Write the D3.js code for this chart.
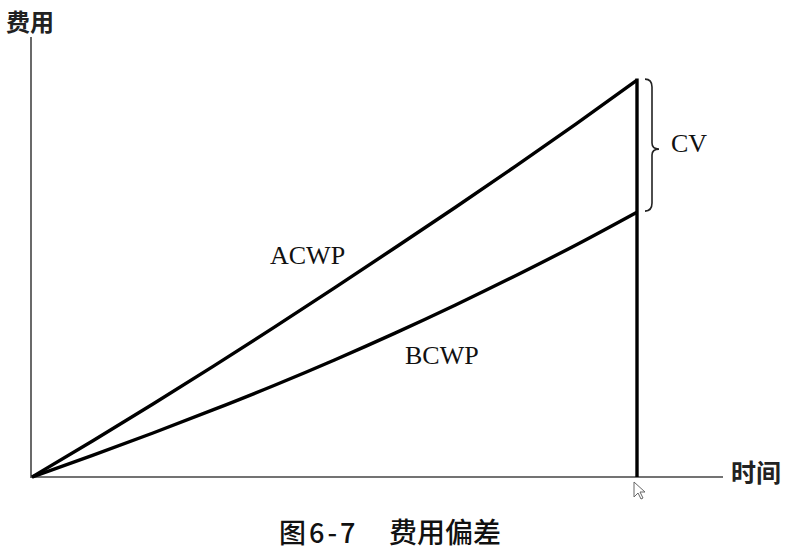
<!DOCTYPE html>
<html><head><meta charset="utf-8">
<script src="https://cdn.jsdelivr.net/npm/d3@7"></script>
<style>html,body{margin:0;padding:0;background:#fff;}</style>
</head><body>
<svg id="c" width="796" height="554"></svg>
<script>
const time = [0,1,2,3,4,5,6,7,8,9,10];
const acwp = [0,8.2,16.6,25.2,34.0,43.0,52.1,61.3,70.7,80.3,90.2];
const bcwp = [0,4.9,10.0,15.3,20.8,26.6,32.7,39.1,45.8,52.8,60.2];
const seriesNames = ["ACWP","BCWP"];
const yLabel = "费用", xLabel = "时间";
const title1 = "图6-7", title2 = "费用偏差";
const cvLabel = "CV";

const svg = d3.select("#c");
const x = d3.scaleLinear().domain([0,10]).range([32,637]);
const y = d3.scaleLinear().domain([0,100]).range([477,37]);
const axisColor = "#444";

// axes
svg.append("line").attr("x1",31).attr("x2",31).attr("y1",y(100)).attr("y2",478)
  .attr("stroke",axisColor).attr("stroke-width",1.6);
svg.append("line").attr("x1",31).attr("x2",723).attr("y1",477).attr("y2",477)
  .attr("stroke",axisColor).attr("stroke-width",1.6);

const line = d3.line().x((d,i)=>x(time[i])).y(d=>y(d)).curve(d3.curveMonotoneX);
[acwp,bcwp].forEach(s=>{
  svg.append("path").attr("d",line(s)).attr("fill","none").attr("stroke","#000")
    .attr("stroke-width",3.4).attr("stroke-linejoin","round");
});
// vertical line at end
svg.append("line").attr("x1",x(10)).attr("x2",x(10)).attr("y1",y(acwp[10])-1.5).attr("y2",477)
  .attr("stroke","#000").attr("stroke-width",3.4);

// brace
const yt = y(acwp[10]) - 1, yb = y(bcwp[10]) - 1, ym = (yt+yb)/2 + 4;
const bx = 652;
const brace = `M${bx-7},${yt} Q${bx},${yt} ${bx},${yt+8} L${bx},${ym-6} Q${bx},${ym} ${bx+7},${ym} Q${bx},${ym} ${bx},${ym+6} L${bx},${yb-8} Q${bx},${yb} ${bx-7},${yb}`;
svg.append("path").attr("d",brace).attr("fill","none").attr("stroke","#222").attr("stroke-width",1.6);

// labels
const serif = "'Liberation Serif','Times New Roman',serif";
svg.append("text").attr("x",671).attr("y",152).attr("font-family",serif).attr("font-size",26)
  .attr("fill","#111").text(cvLabel);
svg.append("text").attr("x",270).attr("y",264).attr("font-family",serif).attr("font-size",26)
  .attr("fill","#111").text(seriesNames[0]);
svg.append("text").attr("x",405).attr("y",364).attr("font-family",serif).attr("font-size",26)
  .attr("fill","#111").text(seriesNames[1]);

const cjk = "'Noto Sans CJK SC',sans-serif";
svg.append("text").attr("x",6).attr("y",31).attr("font-family",cjk).attr("font-weight",700)
  .attr("font-size",24).attr("fill","#222").text(yLabel);
svg.append("text").attr("x",731).attr("y",482).attr("font-family",cjk).attr("font-weight",700)
  .attr("font-size",25).attr("fill","#222").text(xLabel);
svg.append("text").attr("x",279).attr("y",543).attr("font-family",cjk).attr("font-weight",500)
  .attr("font-size",27).attr("letter-spacing",3).attr("fill","#111").text(title1);
svg.append("text").attr("x",389).attr("y",543).attr("font-family",cjk).attr("font-weight",500)
  .attr("font-size",28).attr("fill","#111").text(title2);

// mouse cursor artifact
svg.append("path").attr("d","M634,482 L634,497 L638,493 L641,499 L643,498 L640,492 L645,492 Z")
  .attr("fill","#fff").attr("stroke","#666").attr("stroke-width",1);
</script>
</body></html>
